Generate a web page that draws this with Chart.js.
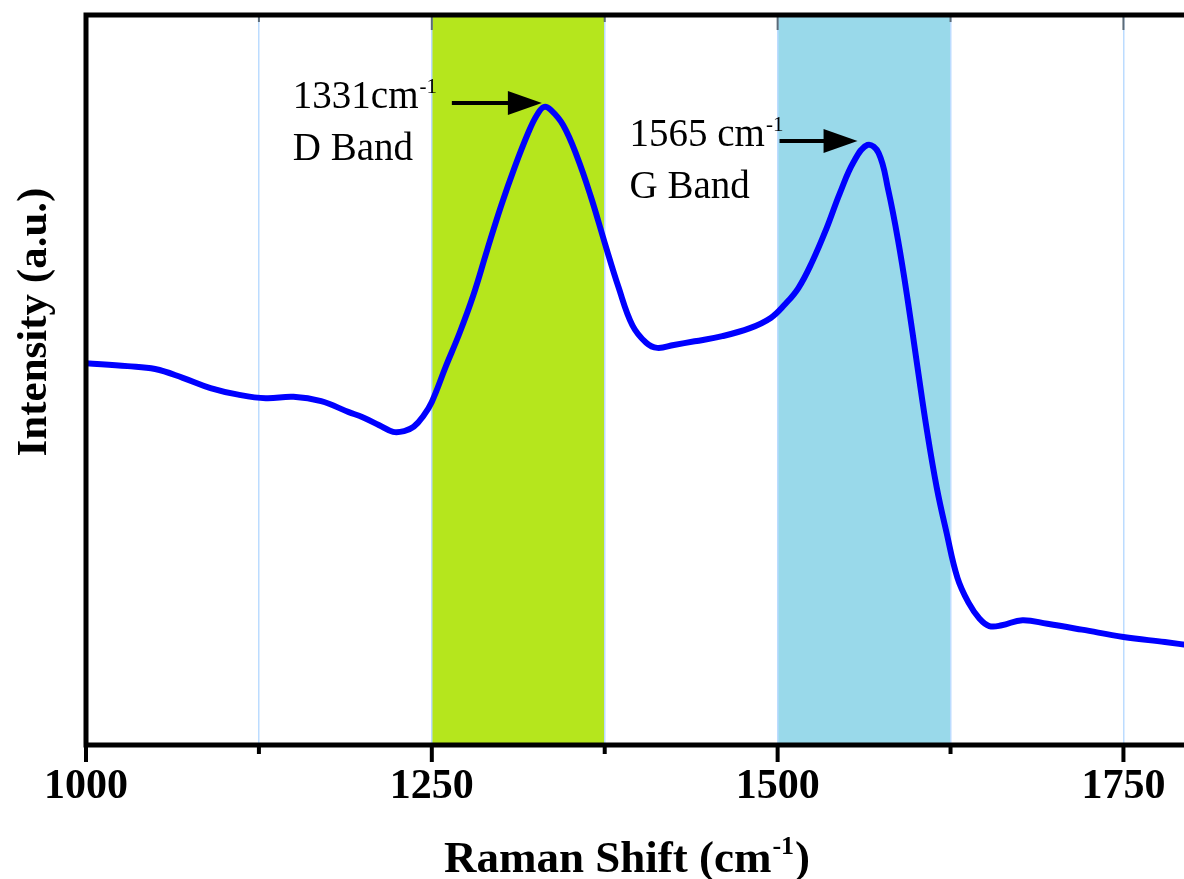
<!DOCTYPE html>
<html>
<head>
<meta charset="utf-8">
<title>Raman spectrum</title>
<script src="https://cdn.jsdelivr.net/npm/chart.js@4.4.1/dist/chart.umd.min.js"></script>
<style>
  html, body { margin: 0; padding: 0; background: #fff; overflow: hidden; }
  #raman { position: absolute; left: 0; top: 0; }
</style>
</head>
<body>
<canvas id="raman" width="1240" height="879"></canvas>
<script>
// Raman shift (cm-1) and intensity (a.u.)
const shift = [1000, 1030, 1050, 1070, 1090, 1110, 1130, 1150, 1170, 1190, 1200, 1212, 1222, 1230,
    1237, 1244, 1250, 1260, 1270, 1280, 1290, 1300, 1310, 1320, 1326, 1331, 1336, 1345, 1355, 1365,
    1375, 1385, 1395, 1405, 1413, 1425, 1440, 1460, 1480, 1495, 1505, 1515, 1525, 1535, 1545, 1555,
    1565, 1573, 1580, 1587, 1594, 1601, 1608, 1615, 1622, 1630, 1638, 1646, 1653, 1662, 1677, 1695,
    1720, 1750, 1780, 1800];
const intensity = [523, 519, 515, 503, 489, 480, 475, 477, 471, 456, 449, 438, 429, 430,
    436, 451, 470, 518, 564, 616, 678, 738, 792, 840, 863, 874, 870, 849, 806, 751,
    688, 627, 575, 551, 544, 548, 553, 560, 571, 585, 603, 626, 662, 706, 756, 799,
    822, 811, 760, 692, 610, 519, 430, 353, 292, 229, 195, 173, 163, 164, 171, 166,
    158, 148, 141, 136];

// shaded band regions
const bandStart = [1250, 1500];
const bandEnd = [1375, 1625];
const bandColors = ["#b5e61d", "#99d9ea"];

// peak callouts
const peakShift = [1331, 1565];
const peakText = ["1331cm", "1565 cm"];
const bandName = ["D Band", "G Band"];

const labelledTicks = [1000, 1250, 1500, 1750];

const SERIF = "'Liberation Serif', 'Times New Roman', serif";

function line(ctx, x1, y1, x2, y2) {
    ctx.beginPath();
    ctx.moveTo(x1, y1);
    ctx.lineTo(x2, y2);
    ctx.stroke();
}

const bandsPlugin = {
    id: "bands",
    beforeDraw(chart) {
        const { ctx, chartArea: a, scales: { x } } = chart;
        ctx.save();
        bandStart.forEach((s, i) => {
            const l = x.getPixelForValue(s);
            const r = x.getPixelForValue(bandEnd[i]);
            ctx.fillStyle = bandColors[i];
            ctx.fillRect(l, a.top, r - l, a.bottom - a.top);
        });
        ctx.restore();
    }
};

// frame, tick marks, callouts and axis titles
const framePlugin = {
    id: "frame",
    afterDatasetsDraw(chart) {
        const { ctx, chartArea: a, scales: { x, y } } = chart;
        ctx.save();

        x.ticks.forEach(t => {
            const px = x.getPixelForValue(t.value);
            const major = labelledTicks.includes(t.value);
            ctx.strokeStyle = "#000";
            ctx.lineWidth = 4;
            line(ctx, px, a.bottom, px, a.bottom + (major ? 17 : 9));
            ctx.strokeStyle = "#5b6b78";
            ctx.lineWidth = 2;
            line(ctx, px, a.top, px, a.top + (major ? 15 : 7));
        });

        ctx.strokeStyle = "#000";
        ctx.lineWidth = 5;
        ctx.strokeRect(a.left, a.top, a.right - a.left, a.bottom - a.top);

        // callouts: arrow pointing at each peak, text to its left
        const layout = [
            { tip: -2, tail: -92, text: -251 },
            { tip: -10, tail: -88, text: -238 }
        ];
        peakShift.forEach((p, i) => {
            const idx = shift.indexOf(p);
            const px = x.getPixelForValue(p);
            const py = y.getPixelForValue(intensity[idx]);
            const ay = py - 4;
            const tip = px + layout[i].tip;
            ctx.fillStyle = "#000";
            ctx.strokeStyle = "#000";
            ctx.lineWidth = 4;
            line(ctx, px + layout[i].tail, ay, tip - 30, ay);
            ctx.beginPath();
            ctx.moveTo(tip, ay);
            ctx.lineTo(tip - 34, ay - 12);
            ctx.lineTo(tip - 34, ay + 12);
            ctx.closePath();
            ctx.fill();

            const tx = px + layout[i].text;
            const base = py + 1;
            ctx.textAlign = "left";
            ctx.textBaseline = "alphabetic";
            ctx.font = `39px ${SERIF}`;
            ctx.fillText(peakText[i], tx, base);
            const w = ctx.measureText(peakText[i]).width;
            ctx.font = `21px ${SERIF}`;
            ctx.fillText("-1", tx + w + 1, base - 15);
            ctx.font = `39px ${SERIF}`;
            ctx.fillText(bandName[i], tx, base + 52);
        });

        // x axis title with superscript
        ctx.font = `bold 45px ${SERIF}`;
        const t1 = "Raman Shift (cm";
        const w1 = ctx.measureText(t1).width;
        ctx.font = `bold 26px ${SERIF}`;
        const w2 = ctx.measureText("-1").width;
        ctx.font = `bold 45px ${SERIF}`;
        const w3 = ctx.measureText(")").width;
        let sx = a.left + 540 - (w1 + w2 + w3) / 2;
        const by = 872;
        ctx.fillText(t1, sx, by);
        ctx.font = `bold 26px ${SERIF}`;
        ctx.fillText("-1", sx + w1 + 1, by - 18);
        ctx.font = `bold 45px ${SERIF}`;
        ctx.fillText(")", sx + w1 + w2 + 2, by);

        // y axis title
        ctx.translate(46, 322);
        ctx.rotate(-Math.PI / 2);
        ctx.textAlign = "center";
        ctx.font = `bold 43px ${SERIF}`;
        ctx.fillText("Intensity (a.u.)", 0, 0);

        ctx.restore();
    }
};

new Chart(document.getElementById("raman"), {
    type: "line",
    data: {
        labels: shift,
        datasets: [{
            data: shift.map((s, i) => ({ x: s, y: intensity[i] })),
            borderColor: "#0000ff",
            borderWidth: 6,
            pointRadius: 0,
            tension: 0.4,
            fill: false
        }]
    },
    options: {
        responsive: false,
        devicePixelRatio: 1,
        animation: false,
        layout: { padding: { left: 0, top: 15, right: 47.4, bottom: 0 } },
        plugins: { legend: { display: false }, tooltip: { enabled: false } },
        scales: {
            x: {
                type: "linear",
                min: 1000,
                max: 1800,
                afterFit: s => { s.height = 134; },
                border: { display: false },
                grid: { color: "#bcdcff", lineWidth: 1.5, drawTicks: false },
                ticks: {
                    stepSize: 125,
                    includeBounds: false,
                    autoSkip: false,
                    maxRotation: 0,
                    padding: 17,
                    color: "#000",
                    font: { family: SERIF, size: 42, weight: "bold" },
                    callback: v => labelledTicks.includes(v) ? String(v) : ""
                }
            },
            y: {
                min: 0,
                max: 1000,
                afterFit: s => { s.width = 86; },
                border: { display: false },
                grid: { display: false },
                ticks: { display: false }
            }
        }
    },
    plugins: [bandsPlugin, framePlugin]
});
</script>
</body>
</html>
